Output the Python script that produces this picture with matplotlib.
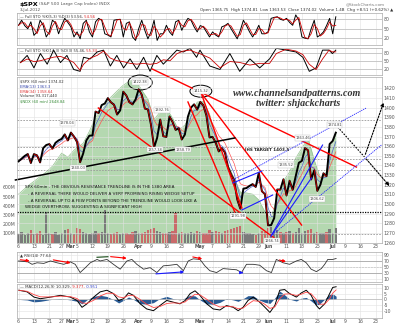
import numpy as np
import pandas as pd
import matplotlib
matplotlib.use('Agg')
import matplotlib.pyplot as plt
from matplotlib.patches import Ellipse

# trading day index 0 = 6 Feb 2012, 103 = 3 Jul 2012
closes = [1344.3, 1347.1, 1349.9, 1351.9, 1342.6, 1351.8, 1350.5, 1343.2, 1358.0, 1361.2,
          1362.2, 1357.7, 1363.5, 1366.0, 1367.6, 1372.2, 1366.0, 1374.1, 1370.0, 1364.3,
          1343.4, 1352.6, 1365.9, 1370.9, 1371.1, 1395.9, 1394.3, 1402.6, 1404.2, 1409.8,
          1405.5, 1402.9, 1392.8, 1397.1, 1416.5, 1412.5, 1405.5, 1403.3, 1408.5, 1419.0,
          1413.4, 1399.0, 1398.1, 1382.2, 1358.6, 1368.7, 1387.6, 1370.3, 1369.6, 1390.8,
          1385.1, 1376.9, 1378.5, 1366.9, 1372.0, 1390.7, 1400.0, 1403.4, 1397.9, 1405.8,
          1402.3, 1391.6, 1369.1, 1369.6, 1363.7, 1354.6, 1358.0, 1353.4, 1338.4, 1330.7,
          1324.8, 1304.9, 1295.2, 1316.0, 1316.6, 1318.9, 1320.7, 1317.8, 1332.4, 1313.3,
          1310.3, 1278.0, 1278.2, 1285.5, 1315.1, 1315.0, 1325.7, 1308.9, 1324.2, 1314.9,
          1329.1, 1342.8, 1344.8, 1358.0, 1355.7, 1325.5, 1335.0, 1313.7, 1320.0, 1331.9,
          1329.0, 1362.2, 1365.5, 1374.0]

volume = [95, 120, 80, 110, 140, 90, 100, 130, 85, 330,
          110, 95, 120, 80, 105, 140, 150, 100, 90, 160,
          150, 120, 100, 90, 110, 130, 100, 120, 350, 110,
          90, 100, 120, 95, 110, 100, 90, 120, 130, 110,
          100, 120, 140, 150, 160, 130, 120, 100, 110, 120,
          130, 320, 110, 120, 100, 110, 120, 100, 130, 120,
          110, 100, 140, 120, 130, 120, 110, 130, 140, 150,
          160, 170, 180, 120, 110, 100, 90, 80, 110, 130,
          120, 160, 170, 130, 140, 120, 110, 120, 130, 110,
          120, 160, 110, 130, 140, 150, 110, 120, 100, 110,
          120, 150, 110, 160]

ndx_days = [0, 3, 6, 9, 11, 14, 16, 18, 21, 23, 25, 27, 30, 32, 34, 36, 38, 40, 42, 44,
            46, 48, 50, 52, 54, 56, 58, 60, 62, 64, 66, 68, 70, 72, 74, 76, 78, 80, 82, 84,
            86, 88, 90, 92, 94, 96, 98, 100, 102, 103]
ndx_vals = [2518, 2538, 2555, 2572, 2586, 2618, 2608, 2625, 2642, 2671, 2705, 2722, 2754, 2769,
            2783, 2793, 2795, 2771, 2749, 2700, 2718, 2727, 2703, 2674, 2686, 2715, 2742, 2744,
            2713, 2654, 2613, 2589, 2557, 2523, 2521, 2518, 2504, 2475, 2460, 2513, 2550, 2572,
            2606, 2630, 2654, 2601, 2557, 2572, 2650, 2669]

sto1 = [61, 77, 60, 50, 72, 29, 40, 77, 61, 24,
        40, 77, 69, 34, 61, 83, 70, 56, 24, 40,
        18, 67, 77, 40, 24, 72, 83, 77, 34, 30,
        24, 77, 79, 80, 24, 67, 72, 24, 13, 50,
        77, 45, 18, 40, 77, 13, 34, 34, 61, 40,
        29, 72, 77, 45, 67, 83, 77, 56, 40, 60,
        56, 40, 24, 40, 30, 24, 56, 60, 67, 50,
        34, 18, 45, 77, 60, 40, 24, 40, 61, 34,
        34, 40, 83, 86, 88, 80, 77, 83, 70, 61,
        94, 77, 24, 20, 18, 50, 77, 24, 30, 40,
        60, 83, 34, 88]

sto2_days = [0.6, 2.8, 5, 7.1, 9.3, 11.4, 13.6, 15.7, 17.9, 20, 21.1, 23.3, 25.5, 27.6, 29.8,
             31.9, 34.1, 36.2, 38.4, 40.6, 42.7, 44.9, 47, 49.2, 51.4, 53.5, 55.7, 57.8, 58.9,
             62.1, 65.4, 68.6, 71.8, 75.1, 78.3, 81.5, 83.7, 86.9, 90.1, 92.3, 94.4, 96.6,
             98.7, 100.8, 101.9, 103]
sto2_vals = [45, 72, 25, 79, 39, 92, 45, 72, 19, 12, 65, 59, 85, 92, 32, 72, 25, 59, 19, 65,
             12, 72, 39, 65, 92, 85, 99, 65, 92, 32, 19, 79, 12, 59, 25, 59, 99, 92, 85, 65,
             12, 25, 92, 92, 79, 92]

rsi_days = [0, 3, 4.4, 6, 8.2, 10.4, 12.5, 14.7, 16.8, 18.4, 20, 21.7, 23.3, 25.5, 26.5,
            28.7, 30.8, 33, 35.2, 36.8, 38.4, 40.6, 42.7, 44.9, 47, 49.2, 51.4, 53.5, 55.1,
            56.7, 58.9, 60.5, 62.1, 64.3, 66.4, 68.6, 70.8, 72.4, 74, 76.2, 78.3, 80.5, 82.1,
            83.7, 85.9, 88, 90.2, 91.8, 93.4, 95, 96.7, 98.3, 99.4, 100.4, 102, 103.1]
rsi_vals = [69, 66, 58, 63, 61, 69, 63, 58, 66, 58, 31, 47, 63, 74, 69, 74, 58, 42, 69, 74,
            58, 42, 47, 31, 53, 55, 58, 37, 69, 76, 74, 53, 37, 31, 44, 42, 40, 31, 58, 58,
            55, 37, 31, 74, 63, 58, 69, 74, 63, 42, 34, 44, 58, 74, 74, 77]

macd_days = [0.1, 2.8, 5, 7.1, 10.4, 13.6, 16.8, 19, 20.6, 22.2, 24.4, 26.5, 28.7, 30.8, 32.5,
             34.1, 35.7, 37.3, 39.5, 41.6, 43.8, 45.9, 48.1, 50.3, 52.4, 54.1, 55.7, 57.3,
             58.9, 61.1, 63.2, 65.4, 67.5, 69.7, 71.3, 72.9, 74.5, 76.2, 78.3, 80, 81.6, 83.2,
             84.8, 86.4, 88, 90.2, 91.8, 93.4, 95, 96.7, 97.7, 99.4, 101, 102, 103.1]
macd_vals = [7.9, 6.5, 2, 0.6, 2, 3.5, 2, -0.9, -6.8, -3.8, 2, 6.5, 7.9, 5, -0.9, 0.6, 5.6,
             3.5, -3.8, -8.2, -9.7, -5.3, -0.9, -2.4, -3.8, -0.9, 5, 7.4, 3.5, -3.8, -8.2,
             -9.1, -5.3, -6.8, -9.7, -6.8, -0.9, 2, -2.4, -6.8, -11.2, -5.3, 7.9, 8.5, 5, 2,
             5.6, 7.9, 3.5, -5.3, -8.2, -3.8, 5, 10.3, 10.9]

tick_days = [0, 5, 10, 14, 17, 19, 24, 29, 34, 39, 43, 48, 53, 59, 63, 68, 73, 78, 81, 87,
             92, 97, 102, 106, 111, 116]
tick_labels = ['6', '13', '21', '27', 'Mar', '5', '12', '19', '26', 'Apr', '9', '16', '23',
               'May', '7', '14', '21', '29', 'Jun', '11', '18', '25', 'Jul', '9', '16', '23']
months = ['Mar', 'Apr', 'May', 'Jun', 'Jul']

# annotations drawn on the chart (day, price)
price_labels = [(39.5, 1426.5, '1422.38'), (59.2, 1417.2, '1415.32'), (15.9, 1384.0, '1378.04'),
                (19.4, 1337.4, '1340.03'), (46.6, 1397.5, '1392.76'), (44.3, 1356.1, '1357.38'),
                (53.4, 1356.1, '1358.79'), (71.2, 1287.7, '1291.98'), (82.2, 1261.8, '1266.74'),
                (86.7, 1340.5, '1335.52'), (92.2, 1368.5, '1363.46'), (96.8, 1305.3, '1306.62'),
                (102.6, 1382.0, '1374.81')]
red_lines = [[(43.4, 1440.0), (109.7, 1338.4)],
             [(25.9, 1399.6), (84.8, 1260.7)],
             [(59.3, 1415.0), (72.5, 1296.0)],
             [(59.3, 1415.0), (91.9, 1278.3)],
             [(55.0, 1405.8), (70.2, 1291.7)]]
blue_solid = [[(82.0, 1267.0), (98.7, 1361.2)],
              [(82.0, 1267.0), (95.1, 1327.1)],
              [(72.5, 1293.9), (82.5, 1309.4)],
              [(69.6, 1321.9), (79.0, 1334.3)]]
blue_dotted = [[(69.6, 1325.0), (112.9, 1399.6)],
               [(82.0, 1267.0), (117.8, 1361.2)]]
support_line = [(-1.0, 1325.0), (70.2, 1368.5)]
dotted_level = 1292
grey_levels = [1387, 1359, 1347, 1335, 1269]
proj_down = [(103.6, 1379.9), (112.3, 1348.9), (121.0, 1316.6)]
proj_up = [(112.3, 1348.9), (118.8, 1407.9)]
ellipses = [(39.5, 1426.0, 7.8, 15.5), (59.2, 1417.0, 7.1, 12.4)]
rsi_arrows = [(-0.3, 74, 4.5, 68, 'red'), (10.4, 74, 17.8, 61, 'red'), (29, 84, 36, 77, 'red'),
              (43.7, 26, 54.7, 34, 'blue'), (55.7, 84, 60.5, 74, 'red'),
              (71.8, 31, 73.8, 29, 'blue'), (83.8, 74, 87.7, 65, 'red')]

notes = ['SPX 60min - THE OBVIOUS RESISTANCE TRENDLINE IS IN THE 1380 AREA',
         '- A REVERSAL THERE WOULD DELIVER A VERY PROMISING RISING WEDGE SETUP',
         '- A REVERSAL UP TO A FEW POINTS BEYOND THE TRENDLINE WOULD LOOK LIKE A',
         'WEDGE OVERTHROW, SUGGESTING A SIGNIFICANT HIGH']

days = np.arange(len(closes))
grid_c = '#e2e2e2'
tick_c = '#555555'

fig = plt.figure(figsize=(4, 3.23), dpi=100)


def box(top, bot):
    return [17 / 400, (323 - bot) / 323, 365 / 400, (bot - top) / 323]


def style(a, ylo, yhi, yticks, ylabels, show_x=False):
    a.set_xlim(-0.5, 118)
    a.set_ylim(ylo, yhi)
    a.set_xticks(tick_days)
    a.set_yticks(yticks)
    a.yaxis.tick_right()
    a.set_yticklabels(ylabels)
    if show_x:
        a.set_xticklabels(tick_labels)
        for t in a.get_xticklabels():
            if t.get_text() in months:
                t.set_fontweight('bold')
    else:
        a.set_xticklabels([])
    a.tick_params(length=0, labelsize=3.3, colors=tick_c, pad=1)
    a.grid(True, color=grid_c, lw=0.4)
    for s in a.spines.values():
        s.set_color('#aaaaaa')
        s.set_linewidth(0.5)


ax_s1 = fig.add_axes(box(13, 44.5))
ax_s2 = fig.add_axes(box(48, 74.5))
ax = fig.add_axes(box(77, 242.7))
ax_rsi = fig.add_axes(box(251.5, 282))
ax_macd = fig.add_axes(box(283.5, 318))

# stochastics
for a, xs, ys in [(ax_s1, days, sto1), (ax_s2, sto2_days, sto2_vals)]:
    style(a, 0, 100, [20, 50, 80], ['20', '50', '80'])
    for lvl in [20, 50, 80]:
        a.axhline(lvl, color='#bbbbbb', lw=0.5)
    a.plot(xs, ys, color='black', lw=0.7)
    a.plot(xs, pd.Series(ys).rolling(2, min_periods=1).mean(), color='#cc0000', lw=0.6)

# main price panel with NDX area and volume
ax_ndx = ax.twinx()
ax_vol = ax.twinx()
ax_ndx.set_zorder(1)
ax_vol.set_zorder(2)
ax.set_zorder(3)
ax.patch.set_visible(False)
ax_vol.patch.set_visible(False)

ax_ndx.fill_between(ndx_days, 2400, ndx_vals, color='#b4d8b0', lw=0)
ax_ndx.plot(ndx_days, ndx_vals, color='#93c28e', lw=0.5)
ax_ndx.set_ylim(2400, 2803)
ax_ndx.set_yticks([])
for s in ax_ndx.spines.values():
    s.set_visible(False)

vcols = ['#c96a6a' if i > 0 and closes[i] < closes[i - 1] else '#7a7a7a' for i in days]
ax_vol.bar(days, volume, width=0.75, color=vcols, lw=0)
ax_vol.set_ylim(0, 1800)
ax_vol.yaxis.tick_left()
ax_vol.set_yticks([100, 200, 300, 400, 500, 600])
ax_vol.set_yticklabels(['100M', '200M', '300M', '400M', '500M', '600M'])
ax_vol.tick_params(length=0, labelsize=3.3, colors=tick_c, pad=1)
for s in ax_vol.spines.values():
    s.set_visible(False)

style(ax, 1260, 1431.7, list(range(1260, 1430, 10)), [str(v) for v in range(1260, 1430, 10)],
      show_x=True)

for lvl in grey_levels:
    ax.axhline(lvl, color='#999999', lw=0.6, ls=(0, (2, 1.5)))
ax.axhline(dotted_level, color='black', lw=0.9, ls=(0, (1, 1)))

ax.plot(days, pd.Series(closes).ewm(span=6).mean(), color='#ff5555', lw=0.5)
ax.plot(days, pd.Series(closes).ewm(span=3).mean(), color='#5566cc', lw=0.5)
ax.plot(days, closes, color='black', lw=1.4)
for i in days[1:]:
    if closes[i] < closes[i - 1]:
        ax.plot([i - 1, i], [closes[i - 1], closes[i]], color='#cc0000', lw=0.6)

for seg in red_lines:
    (x0, y0), (x1, y1) = seg
    ax.plot([x0, x1], [y0, y1], color='#ff0000', lw=1.0, clip_on=False)
for seg in blue_solid:
    (x0, y0), (x1, y1) = seg
    ax.plot([x0, x1], [y0, y1], color='#1a1aff', lw=0.8)
for seg in blue_dotted:
    (x0, y0), (x1, y1) = seg
    ax.plot([x0, x1], [y0, y1], color='#2222ff', lw=0.6, ls=(0, (1.5, 1)), clip_on=False)
ax.plot([support_line[0][0], support_line[1][0]], [support_line[0][1], support_line[1][1]],
        color='black', lw=1.1, clip_on=False)

ax.plot([p[0] for p in proj_down[:2]], [p[1] for p in proj_down[:2]], color='black', lw=0.8,
        ls=(0, (1.5, 1.2)), clip_on=False)
ax.annotate('', xy=proj_down[2], xytext=proj_down[1], annotation_clip=False,
            arrowprops=dict(arrowstyle='-|>', color='black', lw=0.8, ls=(0, (1.5, 1.2)),
                            mutation_scale=5))
ax.annotate('', xy=proj_up[1], xytext=proj_up[0], annotation_clip=False,
            arrowprops=dict(arrowstyle='-|>', color='black', lw=0.8, ls=(0, (1.5, 1.2)),
                            mutation_scale=5))

for cx, cy, w, h in ellipses:
    ax.add_patch(Ellipse((cx, cy), w, h, fill=False, ec='black', lw=0.7, clip_on=False))

for x, y, t in price_labels:
    ax.text(x, y, t, fontsize=2.6, color='#444444', ha='center', va='center',
            bbox=dict(boxstyle='square,pad=0.15', fc='white', ec='#bbbbbb', lw=0.3))

ax.text(73.5, 1356.1, 'IHS TARGET 1403.5', fontsize=3.0, color='#222222', weight='bold',
        va='center')

legend_lines = [('\\$SPX (60 min) 1374.02', '#333333'), ('EMA(13) 1363.3', '#3344aa'),
                ('EMA(34) 1358.64', '#dd3333'), ('Volume 93,317,440', '#333333'),
                ('\\$NDX (60 min) 2648.84', '#338833')]
for i, (t, c) in enumerate(legend_lines):
    ax.text(0.008, 0.982 - i * 0.029, t, transform=ax.transAxes, fontsize=2.7, color=c,
            va='top')

# RSI
style(ax_rsi, 0, 100, [10, 30, 50, 70, 90], ['10', '30', '50', '70', '90'])
ax_rsi.axhline(70, color='#999999', lw=0.5)
ax_rsi.axhline(30, color='#999999', lw=0.5)
ax_rsi.axhline(50, color='#bbbbbb', lw=0.4, ls='--')
ax_rsi.plot(rsi_days, rsi_vals, color='#333333', lw=0.6)
ax_rsi.plot([25.5, 29], [81, 83], color='#2e5e2e', lw=0.9)
for x0, y0, x1, y1, c in rsi_arrows:
    col = '#ff0000' if c == 'red' else '#1a1aff'
    ax_rsi.annotate('', xy=(x1, y1), xytext=(x0, y0), annotation_clip=False,
                    arrowprops=dict(arrowstyle='-|>', color=col, lw=0.8, mutation_scale=4))
ax_rsi.text(0.008, 0.95, '\u25b2 RSI(14) 77.64', transform=ax_rsi.transAxes, fontsize=2.8,
            color='#333333', va='top')

# MACD
style(ax_macd, -16, 13.7, [-10, -5, 0, 5, 10], ['-10', '-5', '0', '5', '10'], show_x=True)
macd_s = pd.Series(macd_vals)
signal = macd_s.ewm(span=3).mean()
hist = macd_s - signal
ax_macd.axhline(0, color='#aaaaaa', lw=0.4)
ax_macd.fill_between(macd_days, 0, hist, color='#2b5c95', lw=0)
ax_macd.plot(macd_days, macd_vals, color='black', lw=0.7)
ax_macd.plot(macd_days, signal, color='#ff4444', lw=0.6)

# header and panel titles
fig.text(20 / 400, 1 - 4.5 / 323, '\\$SPX', fontsize=4.6, weight='bold', va='center')
fig.text(39 / 400, 1 - 4.5 / 323, '(S&P 500 Large Cap Index) INDX', fontsize=3.2,
         color='#555555', va='center')
fig.text(20 / 400, 1 - 10 / 323, '3-Jul-2012', fontsize=3.0, color='#555555', va='center')
fig.text(385 / 400, 1 - 4 / 323, '@StockCharts.com', fontsize=3.0, color='#777777',
         va='center', ha='right')
fig.text(393 / 400, 1 - 10 / 323,
         'Open 1365.75  High 1374.81  Low 1363.53  Close 1374.02  Volume 1.4B  Chg +8.51 (+0.62%) \u25b2',
         fontsize=2.9, color='#333333', va='center', ha='right')

for a, black_t, red_t in [(ax_s1, '\u2014 Full STO %K(5,3) %D(3) 53.56,', '54.56'),
                          (ax_s2, '\u2014 Full STO %K(14,3) %D(3) 55.46,', '55.34')]:
    t = a.text(0.008, 0.95, black_t, transform=a.transAxes, fontsize=2.7, color='#333333',
               va='top')
    a.annotate(' ' + red_t, xy=(1, 0), xycoords=t, fontsize=2.7, color='#dd2222', va='bottom')

t = ax_macd.text(0.008, 0.96, '\u2014 MACD(12,26,9) 10.329,', transform=ax_macd.transAxes,
                 fontsize=2.8, color='#333333', va='top')
t2 = ax_macd.annotate(' 9.377,', xy=(1, 0), xycoords=t, fontsize=2.8, color='#dd2222',
                      va='bottom')
ax_macd.annotate(' 0.951', xy=(1, 0), xycoords=t2, fontsize=2.8, color='#3344cc', va='bottom')

fig.text(297 / 400, 1 - 93 / 323, 'www.channelsandpatterns.com', fontsize=7.2,
         family='Liberation Serif', style='italic', weight='bold', color='#333333',
         ha='center', va='center')
fig.text(298 / 400, 1 - 103.5 / 323, 'twitter: shjackcharts', fontsize=7.2,
         family='Liberation Serif', style='italic', weight='bold', color='#333333',
         ha='center', va='center')

for line, y in zip(notes, [187, 194, 201, 207.5]):
    x = 28 if line.startswith('-') else 25
    fig.text(x / 400, 1 - y / 323, line, fontsize=3.0, color='#111111', va='center',
             zorder=10)

fig.savefig('out.png', dpi=100)
